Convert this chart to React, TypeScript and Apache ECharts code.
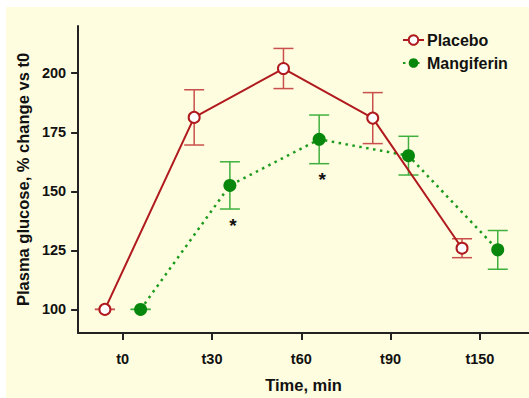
import React, { useEffect, useRef } from "react";
import * as echarts from "echarts";

const categories = ["t0", "t30", "t60", "t90", "t150"];
const placeboMean = [100, 181.3, 202, 181, 125.9];
const placeboSem = [0, 11.7, 8.5, 10.8, 4];
const mangiferinMean = [100, 152.5, 172, 165.1, 125.2];
const mangiferinSem = [0, 10, 10.3, 8.2, 8.2];
const mangiferinSignificant = [false, true, true, false, false];
const yTicks = [100, 125, 150, 175, 200];

const FONT = "'Liberation Sans', Arial, Helvetica, sans-serif";
const OFFSET = 0.2;
const RED = "#b01a1e";
const RED_ERR = "#c9504c";
const GREEN = "#07870b";
const GREEN_LINE = "#1c9a1c";
const GREEN_ERR = "#3fb03f";

function errorRender(color: string) {
  return (params: any, api: any) => {
    const x = api.value(0);
    const lo = api.coord([x, api.value(1)]);
    const hi = api.coord([x, api.value(2)]);
    const sig = api.value(3);
    const half = 10;
    const style = { stroke: color, lineWidth: 1.5 };
    const children: any[] = [
      { type: "line", shape: { x1: lo[0], y1: lo[1], x2: hi[0], y2: hi[1] }, style },
      { type: "line", shape: { x1: lo[0] - half, y1: lo[1], x2: lo[0] + half, y2: lo[1] }, style },
      { type: "line", shape: { x1: hi[0] - half, y1: hi[1], x2: hi[0] + half, y2: hi[1] }, style },
    ];
    if (sig) {
      children.push({
        type: "text",
        x: lo[0] + 3,
        y: lo[1] + 16,
        style: {
          text: "*",
          fill: "#111",
          font: `bold 19px ${FONT}`,
          align: "center",
          verticalAlign: "middle",
        },
      });
    }
    return { type: "group", children };
  };
}

export default function App() {
  const ref = useRef<HTMLDivElement>(null);
  useEffect(() => {
    if (!ref.current) return;
    const chart = echarts.init(ref.current, undefined, { renderer: "svg" });
    const placeboPts = placeboMean.map((v, i) => [i - OFFSET, v]);
    const mangPts = mangiferinMean.map((v, i) => [i + OFFSET, v]);
    const placeboErr = placeboMean.map((v, i) => [i - OFFSET, v - placeboSem[i], v + placeboSem[i], 0]);
    const mangErr = mangiferinMean.map((v, i) => [
      i + OFFSET,
      v - mangiferinSem[i],
      v + mangiferinSem[i],
      mangiferinSignificant[i] ? 1 : 0,
    ]);
    chart.setOption({
      animation: false,
      backgroundColor: "#fffddf",
      textStyle: { fontFamily: FONT },
      grid: { left: 72, top: 19, right: 0, bottom: 62 },
      legend: {
        orient: "vertical",
        left: 396,
        top: 25,
        padding: 0,
        itemGap: 7,
        itemWidth: 21,
        itemHeight: 12,
        data: ["Placebo", "Mangiferin"],
        textStyle: { fontFamily: FONT, fontSize: 16, fontWeight: "bold", color: "#111", padding: [0, 0, 0, -2] },
      },
      xAxis: {
        type: "value",
        min: -0.5,
        max: 4.55,
        name: "Time, min",
        nameLocation: "middle",
        nameGap: 43,
        nameTextStyle: { fontFamily: FONT, fontSize: 16.5, fontWeight: "bold", color: "#111" },
        axisLine: { show: true, onZero: false, lineStyle: { color: "#222", width: 2 } },
        axisTick: { show: true, length: 7, lineStyle: { color: "#222", width: 2 }, customValues: [0, 1, 2, 3, 4] },
        axisLabel: {
          customValues: [0, 1, 2, 3, 4],
          formatter: (v: number) => categories[Math.round(v)] ?? "",
          fontFamily: FONT,
          fontSize: 14.5,
          fontWeight: "bold",
          color: "#111",
          margin: 18,
        },
        splitLine: { show: false },
      },
      yAxis: {
        type: "value",
        min: 90,
        max: 220,
        name: "Plasma glucose, % change vs t0",
        nameLocation: "middle",
        nameGap: 46,
        nameRotate: 90,
        nameTextStyle: { fontFamily: FONT, fontSize: 16.5, fontWeight: "bold", color: "#111" },
        axisLine: { show: true, onZero: false, lineStyle: { color: "#222", width: 2 } },
        axisTick: { show: true, length: 7, lineStyle: { color: "#222", width: 2 }, customValues: yTicks },
        axisLabel: {
          customValues: yTicks,
          fontFamily: FONT,
          fontSize: 14.5,
          fontWeight: "bold",
          color: "#111",
          margin: 12,
        },
        splitLine: { show: false },
      },
      series: [
        {
          name: "Placebo SEM",
          type: "custom",
          renderItem: errorRender(RED_ERR),
          data: placeboErr,
          z: 1,
        },
        {
          name: "Mangiferin SEM",
          type: "custom",
          renderItem: errorRender(GREEN_ERR),
          data: mangErr,
          z: 1,
        },
        {
          name: "Mangiferin",
          type: "line",
          data: mangPts,
          symbol: "circle",
          symbolSize: 13,
          lineStyle: { color: GREEN_LINE, width: 2.5, type: [2.5, 4.5] },
          itemStyle: { color: GREEN, borderWidth: 0 },
          z: 3,
        },
        {
          name: "Placebo",
          type: "line",
          data: placeboPts,
          symbol: "circle",
          symbolSize: 11,
          lineStyle: { color: RED, width: 2 },
          itemStyle: { color: "#ffffff", borderColor: RED, borderWidth: 2 },
          z: 4,
        },
      ],
    });
    return () => chart.dispose();
  }, []);
  return (
    <div style={{ position: "fixed", left: 0, top: 0, width: 529, height: 398, background: "#ffffff" }}>
      <div ref={ref} style={{ position: "absolute", left: 6, top: 7, width: 523, height: 391 }} />
    </div>
  );
}
